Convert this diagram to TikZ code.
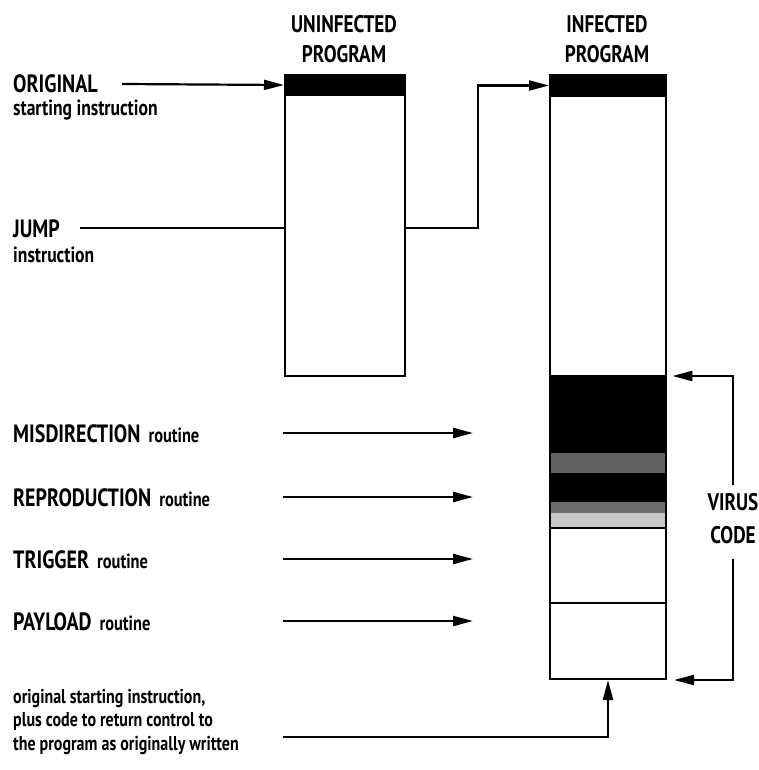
\documentclass[tikz,border=0pt]{standalone}
\usepackage{fontspec}
\setmainfont{PT Sans}[FakeStretch=0.8]
\usetikzlibrary{arrows.meta,positioning,calc}
\tikzset{
  prog/.style  = {draw, line width=2pt, rectangle, inner sep=0pt,
                  minimum width=116pt, anchor=north west},
  band/.style  = {fill=#1, rectangle, inner sep=0pt,
                  minimum width=116pt, anchor=north west},
  lbl/.style   = {anchor=base west, inner sep=0pt,
                  font=\bfseries\fontsize{22}{23.5}\selectfont},
  head/.style  = {align=center, inner sep=0pt, anchor=base,
                  font=\bfseries\fontsize{24}{30}\selectfont},
  sig/.style   = {-{Triangle[length=20pt,width=10pt]}, line width=2.2pt},
  wire/.style  = {line width=2.2pt},
}
\newcommand{\bigtxt}[1]{{\fontsize{25}{30}\selectfont #1}}
\newcommand{\rtn}{\hspace{8pt}{\fontsize{20.5}{22}\selectfont routine}}

\begin{document}
\begin{tikzpicture}[x=1pt,y=-1pt]
\useasboundingbox (0,0) rectangle (758,770);
% ---------- uninfected program ----------
\node[head] (unhead) at (344,63) {UNINFECTED\\PROGRAM};
\node[prog, minimum width=120pt, minimum height=301pt] (unbody) at (284,74) {};
\node[prog, fill=black, minimum width=120pt, minimum height=20pt] (untop) at (284,74) {};
% ---------- infected program ----------
\node[head] (inhead) at (607,63) {INFECTED\\PROGRAM};
\node[band=black,    minimum height=78pt] (inmis)  at (549,375) {};
\node[band=black!62, minimum height=20pt] (ingrA)  at (549,453) {};
\node[band=black,    minimum height=29pt] (inrep)  at (549,473) {};
\node[band=black!58, minimum height=11pt] (ingrB)  at (549,502) {};
\node[band=black!22, minimum height=14pt] (inlgt)  at (549,513) {};
\node[prog, minimum height=75pt] (intrg) at (549,527) {};
\node[prog, minimum height=76pt] (inpay) at (549,602) {};
\node[prog, minimum height=604pt] (inbody) at (549,74) {};
\node[prog, fill=black, minimum height=21pt] (intop) at (549,74) {};
% ---------- left labels ----------
\node[lbl] (orig)    at (13,93)  {\bigtxt{ORIGINAL}};
\node[lbl] (origsub) at (13,116) {starting instruction};
\node[lbl] (jump)    at (13,237) {\bigtxt{JUMP}};
\node[lbl] (jumpsub) at (13,262) {instruction};
\node[lbl] (mis) at (13,442) {\bigtxt{MISDIRECTION}\rtn};
\node[lbl] (rep) at (13,506) {\bigtxt{REPRODUCTION}\rtn};
\node[lbl] (trg) at (13,568) {\bigtxt{TRIGGER}\rtn};
\node[lbl] (pay) at (13,630) {\bigtxt{PAYLOAD}\rtn};
\node[lbl, align=left, font=\bfseries\fontsize{20}{23.5}\selectfont] (ret) at (13,750)
  {original starting instruction,\\
   plus code to return control to\\
   the program as originally written};
\node[head, font=\bfseries\fontsize{24}{33}\selectfont] (virus) at (733,543) {VIRUS\\CODE};
% ---------- connectors ----------
\coordinate (origA) at (122,84);
\draw[sig] (origA) -- (untop.west);
\coordinate (jumpA) at (80,228);
\coordinate (jumpB) at (478,228);
\draw[wire] (jumpA) -- (jumpA -| unbody.west);
\draw[sig] (jumpA -| unbody.east) -- (jumpB) |- (intop.west);
\coordinate (misA) at (283,433); \coordinate (misB) at (473,433);
\coordinate (repA) at (283,497); \coordinate (repB) at (473,497);
\coordinate (trgA) at (283,559); \coordinate (trgB) at (473,559);
\coordinate (payA) at (283,621); \coordinate (payB) at (473,621);
\draw[sig] (misA) -- (misB);
\draw[sig] (repA) -- (repB);
\draw[sig] (trgA) -- (trgB);
\draw[sig] (payA) -- (payB);
\coordinate (retA) at (283,737);
\draw[sig] (retA) -| (inpay.south);
\draw[sig] ($(virus.north)+(0,-8)$) |- ($(inmis.north east)+(7,1)$);
\draw[sig] ($(virus.south)+(0,15)$) |- ($(inpay.south east)+(7,0)$);
\end{tikzpicture}
\end{document}
